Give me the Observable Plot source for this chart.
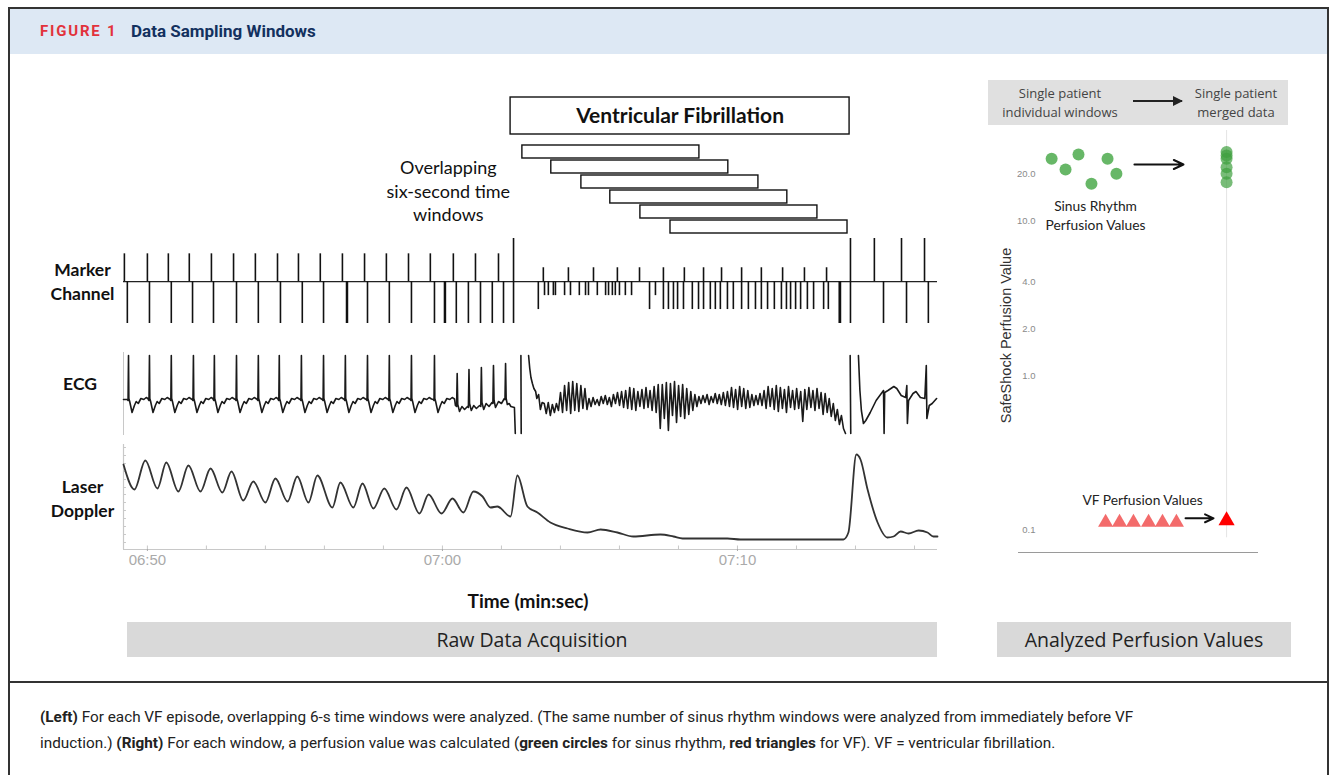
<!DOCTYPE html>
<html><head><meta charset="utf-8">
<script src="https://cdn.jsdelivr.net/npm/d3@7"></script>
<script src="https://cdn.jsdelivr.net/npm/@observablehq/plot@0.6"></script>
<style>
html,body{margin:0;padding:0;background:#fff;}
#root{position:relative;width:1336px;height:775px;overflow:hidden;font-family:"Open Sans",sans-serif;color:#111;}
.abs{position:absolute;}
.frame{left:8px;top:7px;width:1321px;height:800px;border:2px solid #333;box-sizing:border-box;}
.head{left:10px;top:9px;width:1317px;height:45px;background:#dde8f4;}
.fig{left:40px;top:22px;font:bold 15px Roboto,sans-serif;letter-spacing:1.8px;color:#e2323c;}
.ttl{left:131px;top:21px;font:bold 17px Roboto,sans-serif;color:#13315f;}
.div{left:8px;top:681px;width:1321px;height:2px;background:#333;}
.lab{font-family:Lato,sans-serif;font-weight:bold;font-size:17.5px;text-align:center;line-height:24px;}
.banner{background:#d9d9d9;font-family:"Open Sans",sans-serif;font-size:19.5px;text-align:center;line-height:35px;height:35px;color:#222;}
.cap{left:40px;top:704px;width:1280px;font-family:Roboto,sans-serif;font-size:15.3px;line-height:26px;color:#222;white-space:nowrap;}
.rhead{left:988px;top:80px;width:300px;height:45px;background:#e0e0e0;}
.rh{font-family:"Open Sans",sans-serif;font-size:13px;color:#444;text-align:center;line-height:19px;}
</style></head><body>
<div id="root">
  <div class="abs frame"></div>
  <div class="abs head"></div>
  <div class="abs fig">FIGURE 1</div>
  <div class="abs ttl">Data Sampling Windows</div>
  <div class="abs div"></div>

  <div class="abs lab" style="left:30px;top:258px;width:105px;">Marker<br>Channel</div>
  <div class="abs lab" style="left:30px;top:372px;width:100px;">ECG</div>
  <div class="abs lab" style="left:30px;top:475px;width:105px;">Laser<br>Doppler</div>
  <div class="abs lab" style="left:428px;top:589px;width:200px;font-size:19px;">Time (min:sec)</div>
  <div class="abs banner" style="left:127px;top:622px;width:810px;">Raw Data Acquisition</div>
  <div class="abs banner" style="left:997px;top:622px;width:294px;">Analyzed Perfusion Values</div>

  <div class="abs rhead"></div>
  <div class="abs rh" style="left:985px;top:84px;width:150px;">Single patient<br>individual windows</div>
  <div class="abs rh" style="left:1180px;top:84px;width:112px;">Single patient<br>merged data</div>
  <svg class="abs" style="left:1130px;top:94px;" width="60" height="14">
    <defs><marker id="ah" viewBox="0 0 10 10" refX="9" refY="5" markerWidth="5" markerHeight="5" orient="auto"><path d="M0,0L10,5L0,10z" fill="#222"/></marker></defs>
    <line x1="3" y1="7" x2="52" y2="7" stroke="#222" stroke-width="2" marker-end="url(#ah)"/>
  </svg>

  <div id="pVF" class="abs" style="left:100px;top:96px;"></div>
  <div id="pWin" class="abs" style="left:100px;top:141px;"></div>
  <div id="pMark" class="abs" style="left:100px;top:236px;"></div>
  <div id="pEcg" class="abs" style="left:100px;top:350px;"></div>
  <div id="pDop" class="abs" style="left:100px;top:440px;"></div>
  <div id="pPerf" class="abs" style="left:990px;top:125px;"></div>

  <div class="abs cap"><b>(Left)</b> For each VF episode, overlapping 6-s time windows were analyzed. (The same number of sinus rhythm windows were analyzed from immediately before VF<br>induction.) <b>(Right)</b> For each window, a perfusion value was calculated (<b>green circles</b> for sinus rhythm, <b>red triangles</b> for VF). VF = ventricular fibrillation.</div>
</div>
<script>
// ================= DATA =================
// time in seconds after 06:50
const timeDomain = [-0.81, 26.78];
const timeMajorTicks = [0, 10, 20];
const timeMajorLabels = ["06:50", "07:00", "07:10"];
const timeMinorTicks = [0, 2, 4, 6, 8, 10, 12, 14, 16, 18, 20, 22, 24, 26];

const vfStart = 12.31;
const vfEnd = 23.80;
const vfLabel = "Ventricular Fibrillation";
const windowStarts = [12.71, 13.69, 14.71, 15.69, 16.71, 17.73];
const windowLength = 6;
const windowNote = "Overlapping\nsix-second time\nwindows";

// marker channel events (seconds)
const markerSinusUp = [-0.78, 0, 0.71, 1.42, 2.17, 2.92, 3.66, 4.41, 5.12, 5.86, 6.61, 7.36, 8.10, 8.85, 9.59, 10.37, 11.12, 11.90];
const markerSinusDown = [-0.68, 0.07, 0.81, 1.53, 2.24, 3.02, 3.76, 4.51, 5.25, 5.97, 6.75, 6.78, 7.46, 8.20, 8.95, 9.73, 10.07, 10.10, 10.47, 10.88, 11.29, 11.69, 12.07, 23.45, 23.49, 24.95, 25.73, 26.47];
const markerTall = [12.41, 23.83];
const markerPostUp = [24.64, 25.56, 26.34];
const markerVfUp = [13.42, 14.27, 15.12, 15.93, 16.68, 17.49, 18.20, 18.85, 19.46, 20.14, 20.81, 21.53, 22.27, 23.02];
const markerVfDownShort = [13.46, 13.59, 13.76, 13.83, 14.14, 14.34, 14.64, 14.85, 14.95, 15.25, 15.53, 15.63, 15.76, 15.86, 16.0, 16.2, 16.41, 17.22];
const markerVfDownLong = [13.25, 17.02, 17.49, 17.66, 17.83, 17.97, 18.17, 18.47, 18.68, 18.85, 19.08, 19.25, 19.42, 19.66, 19.86, 20.14, 20.37, 20.61, 20.81, 21.02, 21.25, 21.49, 21.66, 21.8, 21.97, 22.14, 22.37, 22.58, 22.92, 23.08];
const ampSinusUp = 1, ampTallUp = 1.55, ampDown = -1.5, ampVfUp = 0.5, ampVfShort = -0.5, ampVfLong = -1.0;

// ECG (arbitrary units)
const ecgStart = [[-0.81, 0.1]];
const ecgBeatTimes = [-0.64, 0.07, 0.81, 1.56, 2.27, 3.02, 3.76, 4.47, 5.22, 5.97, 6.71, 7.46, 8.20, 8.95, 9.73];
const ecgBeatShape = [[-0.04, 0.1], [-0.015, 0.0], [0, 4.5], [0.012, 0.2], [0.04, -0.1], [0.12, -1.2], [0.2, -0.5], [0.26, -0.1], [0.33, -0.3], [0.42, 0.2], [0.52, 0.1], [0.6, 0.3], [0.68, 0.15]];
const ecgPreVF = [[10.44, -0.5], [10.48, -0.6], [10.5, 2.7], [10.52, -0.4], [10.58, -1.1], [10.66, -0.6], [10.75, -0.9], [10.85, -0.6], [10.88, -0.7], [10.9, 3.1], [10.92, -0.3], [10.98, -1.0], [11.06, -0.5], [11.15, -0.8], [11.26, -0.5], [11.3, -0.6], [11.32, 3.3], [11.34, -0.2], [11.4, -0.9], [11.48, -0.3], [11.58, -0.6], [11.68, -0.2], [11.71, -0.3], [11.73, 3.5], [11.75, 0.0], [11.8, -0.7], [11.9, -0.1], [12.0, -0.3], [12.1, 0.2], [12.12, 0.1], [12.14, 3.7], [12.16, 0.2], [12.2, -0.4], [12.26, -0.3], [12.32, -0.6], [12.44, -0.7], [12.47, -3.3], [12.48, NaN], [12.66, 4.5], [12.67, -3.3], [12.68, NaN], [12.92, 4.5], [12.96, 3.2], [13.0, 2.3], [13.05, 1.7], [13.1, 1.2], [13.16, 0.9], [13.2, 0.2], [13.26, 0.6], [13.32, -0.9], [13.38, -0.2]];
const ecgVfStart = 13.45;
const ecgVfStep = 0.069;
const ecgVfValues = [
  -0.3,-1.3,-0.2,-1.5,-0.4,-1.2,-0.3,-1.0,
  0.8,-1.2,1.5,-1.0,1.8,-1.3,1.9,-1.0,1.7,-1.1,1.5,-0.8,1.2,-0.9,
  0.2,-0.6,0.3,-0.4,0.1,-0.5,0.4,-0.3,0.5,-0.4,0.3,-0.6,0.6,-0.3,0.8,-0.5,0.9,-0.7,1.0,
  -0.8,1.3,-0.9,1.2,-1.0,0.9,-0.6,1.1,-0.8,1.3,-0.7,1.0,-1.0,1.4,-1.2,1.6,
  -2.8,1.6,-1.8,1.8,-3.0,1.7,-1.5,1.9,-2.2,1.5,-1.6,1.6,-1.8,1.2,-1.4,0.9,-1.0,0.6,-0.6,
  0.4,-0.3,0.5,-0.2,0.6,-0.4,0.4,-0.2,0.7,-0.3,0.6,-0.4,0.8,-0.5,0.9,-0.6,
  1.3,-0.7,1.1,-0.9,1.4,-0.6,1.2,-0.8,1.0,-0.7,0.6,-0.5,0.5,-0.4,0.7,-0.5,
  1.0,-0.8,1.4,-0.6,1.2,-0.9,1.5,-1.1,1.3,-0.8,1.1,-1.2,1.4,-0.7,1.0,-0.9,
  1.2,-0.8,0.9,-2.1,1.1,-0.9,1.3,-0.7,1.0,-1.0,1.2,-0.8,0.8,-1.4,0.7,-1.2,
  0.2,-1.6,-0.3,-2.0,-0.9,-2.4,-1.5,-2.8,-3.3];
const ecgPostVF = [[23.7, NaN], [23.82, 4.5], [23.84, -3.3], [23.86, NaN], [24.1, 4.5], [24.15, 1.0], [24.2, -1.0], [24.27, -2.3], [24.35, -2.0], [24.5, -1.2], [24.7, 0.0], [24.85, 0.6], [24.95, 1.0], [24.97, -3.3], [24.99, 0.8], [25.1, 1.0], [25.3, 1.4], [25.4, 1.2], [25.55, 0.5], [25.7, 0.3], [25.74, 1.5], [25.76, -2.3], [25.8, 0.0], [25.95, 0.7], [26.05, 0.9], [26.2, 0.3], [26.35, 0.2], [26.4, 3.5], [26.42, -1.8], [26.5, -0.5], [26.6, -0.3], [26.75, 0.2]];

// Laser Doppler (arbitrary perfusion units)
const dopplerTrace = [[-0.81, 8.5], [-0.44, 6.0], [-0.07, 8.9], [0.34, 6.1], [0.64, 8.7], [1.05, 5.8], [1.39, 8.4], [1.80, 5.8], [2.14, 8.1], [2.54, 5.7], [2.85, 7.8], [3.25, 4.9], [3.59, 6.8], [4.00, 4.7], [4.34, 7.1], [4.75, 4.8], [5.08, 7.3], [5.46, 4.7], [5.76, 7.4], [6.27, 4.2], [6.54, 6.7], [6.98, 4.2], [7.29, 6.6], [7.66, 4.1], [8.03, 6.1], [8.44, 4.0], [8.78, 6.2], [9.22, 3.6], [9.53, 5.5], [9.97, 3.6], [10.34, 5.1], [10.71, 3.7], [11.05, 5.8], [11.36, 5.3], [11.63, 4.2], [11.86, 4.3], [12.31, 3.3], [12.54, 7.4], [12.88, 4.3], [13.22, 3.7], [13.66, 2.7], [14.24, 2.1], [14.92, 1.7], [15.36, 2.0], [15.93, 1.7], [16.47, 1.3], [17.39, 1.5], [17.83, 1.3], [18.14, 1.1], [18.75, 1.1], [19.66, 1.1], [20.10, 1.0], [23.59, 1.0], [23.76, 1.7], [24.03, 9.5], [24.17, 9.0], [24.41, 6.0], [24.75, 2.7], [25.08, 1.2], [25.29, 1.3], [25.53, 1.8], [25.80, 1.6], [26.14, 1.9], [26.44, 1.7], [26.64, 1.3], [26.78, 1.3]];
const dopplerAxisTicks = [0.7, 1.5, 2.3, 3.1, 3.9, 4.7, 5.5, 6.2, 7.0, 7.8, 8.6, 9.4, 10.2];

// Right panel: perfusion values (log scale)
const perfTicks = [0.1, 1, 2, 4, 10, 20];
const perfDomain = [0.0715, 38.5];
const sinusWindowX = [1.38, 1.96, 2.5, 3.04, 3.71, 4.08];
const sinusWindowValues = [25.3, 21.5, 26.9, 17.4, 25.3, 20.2];
const sinusMergedValues = [27.9, 26.5, 25.3, 22.3, 20.2, 17.8];
const vfWindowX = [3.63, 4.21, 4.79, 5.42, 6.0, 6.58];
const vfWindowValues = [0.112, 0.112, 0.112, 0.112, 0.112, 0.112];
const vfMergedValues = [0.115];
const mergedX = 8.67;

// ================= BUILD =================
const common = {width: 860, marginLeft: 23, marginRight: 23, x: {domain: timeDomain, axis: null}, style: {background: "transparent", overflow: "visible"}};

// VF box
document.getElementById("pVF").append(Plot.plot({
  ...common, height: 39, marginTop: 1, marginBottom: 1,
  marks: [
    Plot.rect([{x1: vfStart, x2: vfEnd}], {x1: "x1", x2: "x2", fill: "white", stroke: "#111", strokeWidth: 1.4}),
    Plot.text([vfLabel], {x: (vfStart + vfEnd) / 2, text: d => d, fontFamily: "Lato, sans-serif", fontWeight: "bold", fontSize: 21, fill: "#111"})
  ]
}));

// windows
const windows = windowStarts.map((s, i) => ({row: i + 1, start: s, end: s + windowLength}));
document.getElementById("pWin").append(Plot.plot({
  ...common, height: 97, marginTop: 1, marginBottom: 1,
  y: {domain: windows.map(d => d.row), axis: null, paddingInner: 0.12, paddingOuter: 0.05},
  marks: [
    Plot.barX(windows, {x1: "start", x2: "end", y: "row", fill: "white", stroke: "#111", strokeWidth: 1.4}),
    Plot.text([windowNote], {x: 10.2, text: d => d, fontFamily: "Lato, sans-serif", fontSize: 18, lineHeight: 1.3, fill: "#111"})
  ]
}));

// marker channel
const markers = [
  ...markerSinusUp.map(t => ({t, v: ampSinusUp})),
  ...markerSinusDown.map(t => ({t, v: ampDown})),
  ...markerTall.map(t => ({t, v: ampTallUp})),
  ...markerTall.map(t => ({t, v: ampDown})),
  ...markerPostUp.map(t => ({t, v: ampTallUp})),
  ...markerVfUp.map(t => ({t, v: ampVfUp})),
  ...markerVfDownShort.map(t => ({t, v: ampVfShort})),
  ...markerVfDownLong.map(t => ({t, v: ampVfLong}))
];
document.getElementById("pMark").append(Plot.plot({
  ...common, height: 90, marginTop: 2, marginBottom: 3,
  y: {domain: [ampDown, ampTallUp], axis: null},
  marks: [
    Plot.ruleY([0], {stroke: "#222", strokeWidth: 1.2}),
    Plot.ruleX(markers, {x: "t", y1: 0, y2: "v", stroke: "#111", strokeWidth: 1.6})
  ]
}));

// ECG
const ecg = [];
ecgStart.forEach(([t, v]) => ecg.push({t, v}));
ecgBeatTimes.forEach(bt => ecgBeatShape.forEach(([dt, v]) => ecg.push({t: bt + dt, v})));
ecgPreVF.forEach(([t, v]) => ecg.push({t, v}));
ecgVfValues.forEach((v, i) => ecg.push({t: ecgVfStart + i * ecgVfStep, v}));
ecgPostVF.forEach(([t, v]) => ecg.push({t, v}));
document.getElementById("pEcg").append(Plot.plot({
  ...common, height: 88, marginTop: 2, marginBottom: 3,
  y: {domain: [-3.5, 4.8], axis: null},
  marks: [
    Plot.ruleX([timeDomain[0]], {stroke: "#c8c8c8"}),
    Plot.line(ecg, {x: "t", y: "v", stroke: "#1a1a1a", strokeWidth: 1.6, strokeLinejoin: "round"})
  ]
}));

// Laser Doppler
const dop = dopplerTrace.map(([t, v]) => ({t, v}));
const tickLabel = new Map(timeMajorTicks.map((d, i) => [d, timeMajorLabels[i]]));
document.getElementById("pDop").append(Plot.plot({
  ...common, height: 135, marginTop: 4, marginBottom: 26,
  y: {domain: [0, 10.5], axis: null},
  marks: [
    Plot.ruleY([0], {stroke: "#c8c8c8", strokeWidth: 1.2}),
    Plot.ruleX([timeDomain[0]], {stroke: "#c8c8c8", strokeWidth: 1.2}),
    Plot.ruleY(dopplerAxisTicks, {x1: timeDomain[0], x2: timeDomain[0] + 0.1, stroke: "#c8c8c8"}),
    Plot.ruleX(timeMinorTicks, {y1: 0, y2: 0.35, stroke: "#c8c8c8"}),
    Plot.axisX(timeMajorTicks, {tickFormat: d => tickLabel.get(d), tickSize: 2, tickPadding: 3, fontSize: 15, fontFamily: "Liberation Sans, Arial, sans-serif", color: "#aaaaaa", label: null}),
    Plot.line(dop, {x: "t", y: "v", curve: "monotone-x", stroke: "#333", strokeWidth: 1.8})
  ]
}));

// Right perfusion panel
const sinusWin = sinusWindowX.map((x, i) => ({x, v: sinusWindowValues[i]}));
const sinusMerged = sinusMergedValues.map(v => ({x: mergedX, v}));
const vfWin = vfWindowX.map((x, i) => ({x, v: vfWindowValues[i]}));
const vfMerged = vfMergedValues.map(v => ({x: mergedX, v}));
document.getElementById("pPerf").append(Plot.plot({
  width: 280, height: 435, marginLeft: 28, marginRight: 12, marginTop: 5, marginBottom: 8,
  style: {background: "transparent", overflow: "visible"},
  x: {domain: [0, 10], axis: null},
  y: {type: "log", domain: perfDomain, axis: null},
  marks: [
    Plot.ruleX([mergedX], {y1: perfDomain[1], y2: 0.089, stroke: "#e4e4e4"}),
    Plot.ruleY([perfDomain[0]], {x1: 0, x2: 10, stroke: "#9a9a9a", strokeWidth: 1.2}),
    Plot.axisY(perfTicks, {anchor: "left", tickSize: 0, tickPadding: -17, tickFormat: d => d.toFixed(1), fontSize: 9.5, fontFamily: "Liberation Sans, Arial, sans-serif", color: "#8a8a8a", label: null}),
    Plot.text(["SafeShock Perfusion Value"], {frameAnchor: "left", textAnchor: "middle", text: d => d, rotate: -90, dx: -12, dy: -6, fontSize: 14.5, fontFamily: "Liberation Sans, Arial, sans-serif", fill: "#333"}),
    Plot.dot(sinusWin, {x: "x", y: "v", r: 6, fill: "#4caa4c", fillOpacity: 0.85}),
    Plot.dot(sinusMerged, {x: "x", y: "v", r: 6, fill: "#3f9f3f", fillOpacity: 0.7}),
    Plot.dot(vfWin, {x: "x", y: "v", r: 5.6, symbol: "triangle", fill: "#f36b6b"}),
    Plot.dot(vfMerged, {x: "x", y: "v", r: 6, symbol: "triangle", fill: "#ff0000"}),
    Plot.arrow([{x1: 4.83, x2: 6.875, y: 23.2}], {x1: "x1", x2: "x2", y1: "y", y2: "y", stroke: "#111", strokeWidth: 2, headLength: 8, headAngle: 50}),
    Plot.arrow([{x1: 6.96, x2: 8.125, y: 0.119}], {x1: "x1", x2: "x2", y1: "y", y2: "y", stroke: "#111", strokeWidth: 2, headLength: 8, headAngle: 50}),
    Plot.text(["Sinus Rhythm\nPerfusion Values"], {x: 3.21, y: 11.0, text: d => d, fontSize: 13.8, lineHeight: 1.4, fontFamily: "Lato, sans-serif", fill: "#222"}),
    Plot.text(["VF Perfusion Values"], {x: 5.17, y: 0.155, text: d => d, fontSize: 13.8, fontFamily: "Lato, sans-serif", fill: "#222"})
  ]
}));
</script>
</body></html>
